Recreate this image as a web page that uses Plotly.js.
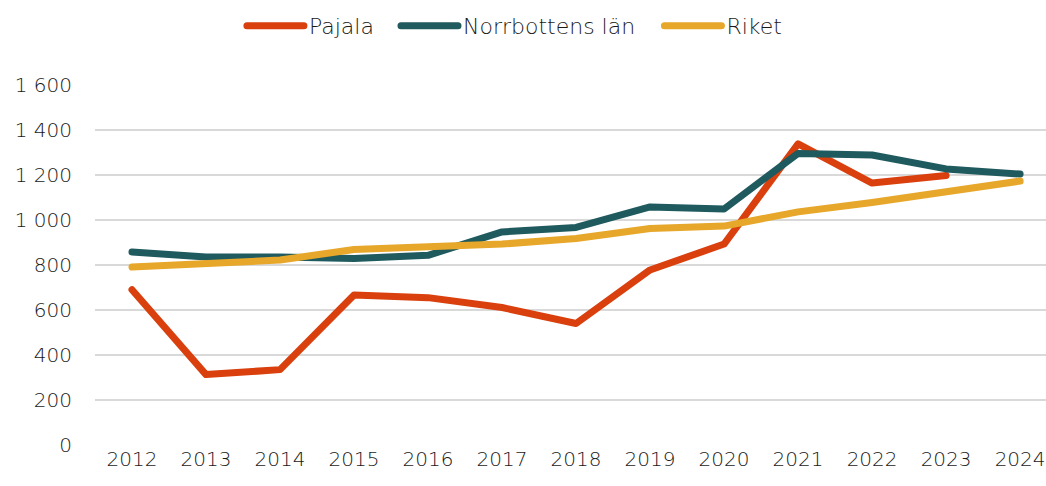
<!DOCTYPE html>
<html>
<head>
<meta charset="utf-8">
<script src="https://cdn.plot.ly/plotly-3.0.1.min.js"></script>
<style>
html,body{margin:0;padding:0;background:#fff;}
#chart{width:1046px;height:486px;}
#chart .scatterlayer path.js-line, #chart .legendlines path{stroke-linecap:round;stroke-linejoin:round;}
</style>
</head>
<body>
<div id="chart"></div>
<script>
const years = ["2012","2013","2014","2015","2016","2017","2018","2019","2020","2021","2022","2023","2024"];
const pajala = [690, 313, 335, 667, 655, 611, 540, 778, 893, 1338, 1164, 1198, null];
const norrbotten = [858, 836, 836, 829, 843, 947, 967, 1058, 1049, 1296, 1289, 1227, 1204];
const riket = [791, 804, 822, 869, 884, 893, 918, 962, 973, 1036, 1078, 1123, 1173];
const names = ["Pajala", "Norrbottens län", "Riket"];
const colors = ["#D9400E", "#1F5A5E", "#E6A72A"];
const legendIds = ["legend", "legend2", "legend3"];

const series = [pajala, norrbotten, riket];
const traces = series.map((s, i) => ({
  x: years, y: s, name: names[i], type: "scatter", mode: "lines",
  line: {color: colors[i], width: 7, shape: "linear"},
  connectgaps: false, legend: legendIds[i]
}));

const tickFont = {family: "DejaVu Sans, sans-serif", size: 20, color: "#1a1a1a", weight: 200};
const legFont = {family: "DejaVu Sans, sans-serif", size: 22, color: "#1a1a1a", weight: 200};
const legPos = [0.1545, 0.3165, 0.5935];
const legBase = (x) => ({orientation: "h", x: x, xanchor: "left", y: 1.164, yanchor: "middle",
  font: legFont, itemwidth: 57, bgcolor: "rgba(0,0,0,0)"});

Plotly.newPlot("chart", traces, {
  width: 1046, height: 486,
  margin: {l: 95, r: 0, t: 85, b: 41, autoexpand: false},
  paper_bgcolor: "#ffffff", plot_bgcolor: "#ffffff",
  separators: ", ",
  font: tickFont,
  showlegend: true,
  legend: legBase(legPos[0]),
  legend2: legBase(legPos[1]),
  legend3: legBase(legPos[2]),
  xaxis: {type: "category", range: [-0.5, 12.35], showgrid: false, zeroline: false,
          showline: false, ticks: "", tickfont: tickFont, fixedrange: true, automargin: false},
  yaxis: {range: [0, 1600], dtick: 200, tickformat: ",d", showgrid: true,
          gridcolor: "#d9d9d9", gridwidth: 1.5, zeroline: false, showline: false,
          ticks: "", ticklabelstandoff: 22, tickfont: tickFont, fixedrange: true, automargin: false}
}, {displayModeBar: false, staticPlot: true});
</script>
</body>
</html>
